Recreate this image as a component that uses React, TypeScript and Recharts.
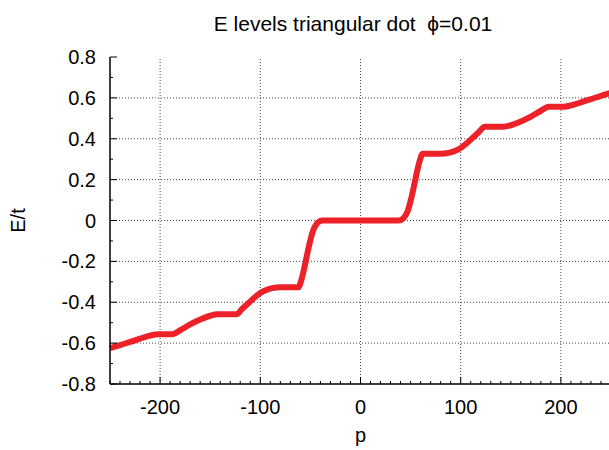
import { Label, Line, LineChart, ReferenceLine, XAxis, YAxis } from "recharts";

// p values and energies
const pValues = [
  -250, -240, -230, -220, -210, -202, -188, -180, -170, -160, -150, -143, -124, -118, -112, -106, -100, -94, -88, -80,
  -62, -59, -56, -53, -50, -47, -44, -41, -38,
  38, 41, 44, 47, 50, 53, 56, 59, 62,
  80, 88, 94, 100, 106, 112, 118, 124, 143, 150, 160, 170, 180, 188, 202, 210, 220, 230, 240, 250
];
const energyValues = [
  -0.625, -0.61, -0.594, -0.578, -0.563, -0.556, -0.556, -0.537, -0.508, -0.484, -0.466, -0.459, -0.459, -0.432, -0.405, -0.378, -0.355, -0.34, -0.331, -0.327,
  -0.327, -0.29, -0.23, -0.16, -0.095, -0.045, -0.018, -0.004, 0,
  0, 0.004, 0.018, 0.045, 0.095, 0.16, 0.23, 0.29, 0.327,
  0.327, 0.331, 0.34, 0.355, 0.378, 0.405, 0.432, 0.459, 0.459, 0.466, 0.484, 0.508, 0.537, 0.556, 0.556, 0.563, 0.578, 0.594, 0.61, 0.625
];

const xTicks = [
  -250, -240, -230, -220, -210, -200, -190, -180, -170, -160, -150, -140, -130, -120, -110, -100, -90, -80, -70, -60, -50,
  -40, -30, -20, -10, 0, 10, 20, 30, 40, 50, 60, 70, 80, 90, 100, 110, 120, 130, 140, 150, 160, 170, 180, 190, 200, 210,
  220, 230, 240, 250
];
const xGrid = [-200, -100, 0, 100, 200];
const yTicks = [-0.8, -0.7, -0.6, -0.5, -0.4, -0.3, -0.2, -0.1, 0, 0.1, 0.2, 0.3, 0.4, 0.5, 0.6, 0.7, 0.8];
const yGrid = [-0.6, -0.4, -0.2, 0, 0.2, 0.4, 0.6];

const chartData = pValues.map((p, i) => ({ p, E: energyValues[i] }));

const FONT = '"Liberation Sans", Arial, sans-serif';
const INK = "#000";
const TICK_FONT = 20;

const isMajorX = (v: number) => v % 100 === 0;
const isMajorY = (v: number) => Math.round(v * 10) % 2 === 0;

function XTick(props: any) {
  const { x, y, payload, side } = props;
  const major = isMajorX(payload.value);
  const len = major ? 7 : 3;
  const dir = side === "top" ? 1 : -1;
  return (
    <g>
      <line x1={x} y1={y} x2={x} y2={y + dir * len} stroke={INK} strokeWidth={1} />
      {side === "bottom" && major && payload.value > -250 && payload.value < 250 ? (
        <text x={x} y={y + 30} textAnchor="middle" fontSize={TICK_FONT} fontFamily={FONT} fill={INK}>
          {payload.value}
        </text>
      ) : null}
    </g>
  );
}

function YTick(props: any) {
  const { x, y, payload, side } = props;
  const major = isMajorY(payload.value);
  const len = major ? 7 : 3;
  const dir = side === "left" ? 1 : -1;
  const label = Math.abs(payload.value) < 1e-9 ? "0" : String(payload.value);
  return (
    <g>
      <line x1={x} y1={y} x2={x + dir * len} y2={y} stroke={INK} strokeWidth={1} />
      {side === "left" && major ? (
        <text x={x - 14} y={y + 7} textAnchor="end" fontSize={TICK_FONT} fontFamily={FONT} fill={INK}>
          {label}
        </text>
      ) : null}
    </g>
  );
}

export default function App() {
  return (
    <div
      style={{
        position: "absolute",
        left: 0,
        top: 0,
        width: 609,
        height: 450,
        overflow: "hidden",
        background: "#fff",
        fontFamily: FONT
      }}
    >
      <div
        style={{
          position: "absolute",
          left: 0,
          top: 13,
          width: 706,
          textAlign: "center",
          fontSize: 21,
          lineHeight: "22px",
          color: INK
        }}
      >
        E levels triangular dot&nbsp; ϕ=0.01
      </div>
      <LineChart width={620} height={450} data={chartData} margin={{ top: 57, right: 9, bottom: 0, left: 0 }}>
        {xGrid.map((v) => (
          <ReferenceLine key={"gx" + v} x={v} stroke="#444" strokeDasharray="1 2" strokeWidth={1} ifOverflow="hidden" />
        ))}
        {yGrid.map((v) => (
          <ReferenceLine key={"gy" + v} y={v} stroke="#444" strokeDasharray="1 2" strokeWidth={1} ifOverflow="hidden" />
        ))}
        <XAxis
          dataKey="p"
          type="number"
          domain={[-250, 250]}
          ticks={xTicks}
          interval={0}
          height={66}
          tickSize={0}
          tickMargin={0}
          tickLine={false}
          axisLine={{ stroke: INK, strokeWidth: 1.5 }}
          tick={<XTick side="bottom" />}
        >
          <Label value="p" position="insideTop" offset={44} fontSize={TICK_FONT} fontFamily={FONT} fill={INK} />
        </XAxis>
        <XAxis
          xAxisId="top"
          dataKey="p"
          type="number"
          orientation="top"
          domain={[-250, 250]}
          ticks={xTicks}
          interval={0}
          height={0}
          tickSize={0}
          tickMargin={0}
          tickLine={false}
          axisLine={{ stroke: INK, strokeWidth: 1.5 }}
          tick={<XTick side="top" />}
        />
        <YAxis
          type="number"
          domain={[-0.8, 0.8]}
          ticks={yTicks}
          interval={0}
          width={110}
          tickSize={0}
          tickMargin={0}
          tickLine={false}
          axisLine={{ stroke: INK, strokeWidth: 1.5 }}
          tick={<YTick side="left" />}
        >
          <Label
            content={(props: any) => {
              const vb = props.viewBox;
              const cx = vb.x + 18;
              const cy = vb.y + vb.height / 2;
              return (
                <text
                  x={cx}
                  y={cy}
                  transform={`rotate(-90 ${cx} ${cy})`}
                  textAnchor="middle"
                  dominantBaseline="central"
                  fontSize={TICK_FONT}
                  fontFamily={FONT}
                  fill={INK}
                >
                  E/t
                </text>
              );
            }}
          />
        </YAxis>
        <YAxis
          yAxisId="right"
          orientation="right"
          type="number"
          domain={[-0.8, 0.8]}
          ticks={yTicks}
          interval={0}
          width={0}
          tickSize={0}
          tickMargin={0}
          tickLine={false}
          axisLine={{ stroke: INK, strokeWidth: 1.5 }}
          tick={<YTick side="right" />}
        />
        <Line
          type="monotone"
          dataKey="E"
          stroke="#ed2128"
          strokeWidth={6}
          dot={false}
          strokeLinejoin="round"
          isAnimationActive={false}
        />
      </LineChart>
    </div>
  );
}
